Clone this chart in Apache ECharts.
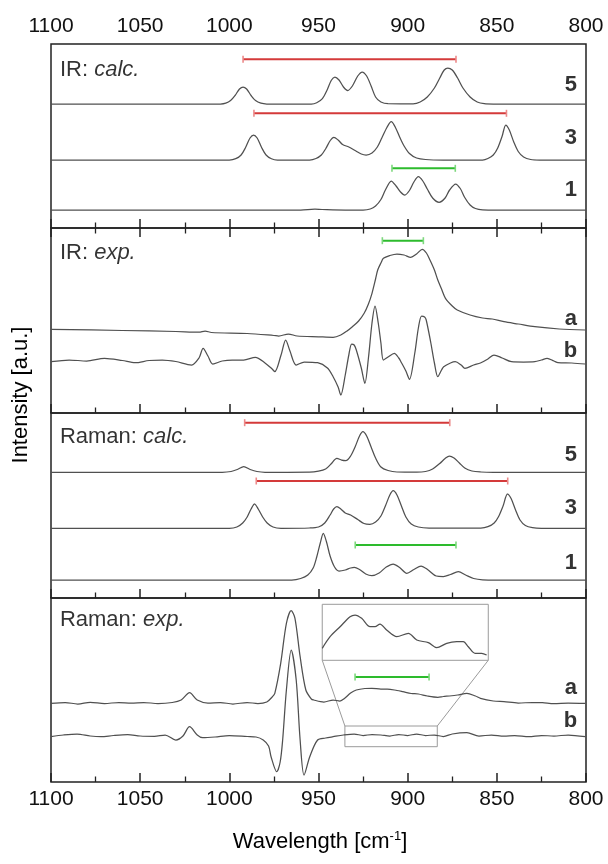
<!DOCTYPE html>
<html><head><meta charset="utf-8">
<script src="https://cdn.jsdelivr.net/npm/echarts@6/dist/echarts.min.js"></script>
<style>html,body{margin:0;padding:0;background:#fff}#c{width:608px;height:864px}</style>
</head><body><div id="c"></div>
<script>
// x ticks (wavenumber, cm-1)
const xTicks = [1100, 1050, 1000, 950, 900, 850, 800];

// Panel 1: IR calc.
const irCalc5 = [[1100,124],[1005,124],[1002,124.8],[999.3,127.4],[996.8,132.5],[994.3,139],[992.3,141],[990.3,139],[987.8,132.5],[985.3,127.4],[982.3,124.8],[979,124],[954,124],[951,125.3],[947.8,129.4],[945.3,137.5],[942.8,147.8],[940.8,151],[938.5,148],[936,141],[933.6,137.5],[931,142],[928,152],[925.5,156],[923,152],[920.5,142],[918,131],[915,126],[911,124.3],[897,124.2],[893,126],[889,131],[885,140],[882,150],[879.5,158],[877.5,160],[875,158],[872,150],[869,140],[865,131],[861,126],[857,124.3],[852,124],[800,124]];
const irCalc3 = [[1100,68],[1000,68],[996.4,69.3],[993.4,73],[990.9,80.5],[988.4,90],[986.4,93],[984.4,90],[981.9,80.5],[979.4,73],[976.4,69.3],[973,68],[955,68],[951.4,69.5],[948.4,73],[945.9,79.5],[943.4,87.5],[941.4,90.7],[939,88],[936.5,83.5],[933,81],[929,77],[926,74],[923.3,73],[920,75],[917,81],[914.5,90],[911.5,101],[909.2,106.3],[907,101],[904.5,91],[902,82],[899,74.5],[895,70],[890,68.5],[880,68],[858,68],[855,69.5],[852,73],[849.5,80],[847,92],[845,103],[843,98],[840.5,86],[838,76.5],[835,71],[831,68.5],[826,68],[800,68]];
const irCalc1 = [[1100,18],[960,18],[952,18.8],[948,18.5],[935,18],[925,18],[921,19],[918,22],[915,28.5],[912.5,38],[909.2,47],[906.5,42],[904,36],[901.6,33],[899,37.5],[896.5,46],[894,51.3],[891.5,47],[889,39],[886,30],[882.4,25.7],[879,30],[876.5,38],[873.1,44],[870.5,39.5],[868,30.5],[865,23],[862,19.5],[858,18.2],[850,18],[800,18]];

// Panel 2: IR exp.
const irExpA = [[1100,83.7],[1060,82.5],[1030,81.5],[1017,80.8],[1013.6,82],[1010,80.5],[990,79.5],[975,77.5],[972.3,77],[966.9,79],[962,77],[950,76.2],[941.8,75.7],[937.5,78],[934,82],[931,86.3],[927.5,92],[924.4,99.7],[922,109],[920,119.7],[918,134],[916.8,143],[915,150],[913.6,154.7],[910,157.5],[906,159],[902,158],[898.3,155.7],[895,159],[891.8,163.7],[889.5,160],[887.5,153],[885,143],[883.1,133],[881,124],[878.8,114.7],[875,107],[872.2,103],[865,98],[858,95],[852.6,94],[846,91.3],[838,89],[828.7,86.3],[815,84],[800.4,83]];
const irExpB = [[1100,51.3],[1089.8,53],[1080,52],[1070,54.7],[1060,52.5],[1052.8,50.3],[1045,52.5],[1037.6,53],[1030,51.5],[1021.2,48],[1017,55],[1014.7,64.7],[1012,57],[1009.3,49],[1004,52],[998.4,53],[992,53],[985.4,55.7],[980,50],[976,44],[974.5,41.3],[971,58],[968.4,73],[966,62],[962.5,48],[958,51],[950.5,50.3],[945,45],[941.8,36.3],[939,26],[937.5,18],[935,38],[933,58],[931.4,69],[930,68],[928.8,63],[926,45],[924,29.7],[922,55],[920,90],[918.3,107],[916.5,90],[915,70],[913.6,53],[911,56],[907.5,59.7],[905,55],[903.8,51.3],[901,42],[899,33.7],[896,60],[894,85],[892.2,97],[890.5,96],[889.6,93],[887,70],[885,50],[883.1,36.3],[881,43],[879.8,46.3],[876,50],[873.3,51.3],[870,48],[867.9,44.7],[863,48],[859.2,50],[855,54],[851.6,58],[847,55],[841.8,51.3],[835,51],[828.7,51.3],[825,53],[821.8,54.7],[818,52],[815.7,50.3],[808,50],[800.4,49]];

// Panel 3: Raman calc.
const raCalc5 = [[1100,125.7],[1004,125.7],[999,126.5],[995.5,128.5],[991.9,131.3],[988.3,128.5],[984.5,126.5],[980,125.7],[955,125.8],[950,126.8],[946,129],[943,134],[939.7,139.7],[937,137.8],[934.7,137.3],[932,142],[929.5,151],[927,162],[925.1,166.3],[923,162],[920.5,151],[918,140],[915,131],[911,127.5],[906,126],[895,125.8],[890,126.5],[886,129],[882,134.5],[879,139.5],[876.6,142],[874,140],[871,135],[868,130],[864,127],[859,126],[852,125.7],[800,125.7]];
const raCalc3 = [[1100,69.7],[1000,69.7],[995.8,71],[992.5,75],[990,81],[987.8,89],[985.8,94],[983.8,89],[981.3,81],[978.8,75],[975.5,71],[971,69.7],[955,70],[950,71],[946.5,75],[943.5,83],[941.5,89],[939.7,91.3],[937.5,89],[935,85],[932,83],[928,78.5],[924.5,74.5],[921.2,73.7],[918,76],[915,82],[912.5,92],[910,103],[908.1,107.3],[906,103],[903.5,92],[901,81],[898,74],[894,71],[888,70],[859,70],[855,71.3],[851.5,75],[849,81.5],[846.5,92],[844,104],[842,99.5],[839.5,88],[837,78],[834,72.5],[830,70.3],[825,69.7],[800,69.7]];
const raCalc1 = [[1100,18],[965,18],[960,19.5],[956,23],[953,30],[951,41],[949,55],[947.3,64.7],[945.5,56],[943.5,42],[941,31],[938.5,27],[935,28],[932,30],[929.9,30.7],[927,28.5],[923.5,24],[920.1,22.3],[916,25],[912,31],[908.1,34],[904.5,30.5],[900.5,24.7],[896.5,28.5],[892.5,32],[888.5,28],[884,22],[880,21.5],[876,23.5],[871.6,26.3],[867.5,23],[863,19.5],[858,18.2],[850,18],[800,18]];

// Panel 4: Raman exp.
const raExpA = [[1100,78.7],[1092,79.5],[1085,78],[1078,79.7],[1070,78.5],[1062,79.5],[1055,78.8],[1048,79.5],[1040,78.5],[1032,79.5],[1027,82],[1022.3,89.3],[1018,82],[1012,79],[1005,79.5],[998,78],[990,79.5],[984,78.5],[979,80],[976,85],[974.5,88.7],[971.2,118.7],[968,158.7],[965.3,171.3],[963.2,163.7],[960.3,125.3],[957.1,92],[954,83],[952.7,82],[947,80],[941.8,82],[938,81],[935.3,83.7],[932,89],[928.8,92],[924,93.5],[920.1,93.7],[915,93],[911.4,93],[906,91.5],[902.7,90.3],[898,88.5],[894,88],[889,86],[883.1,84.7],[880,85.5],[876.6,86],[872,87],[866.8,88.7],[862,86],[859.2,83.7],[852,81],[846,80.3],[838,79],[830,79.5],[824.4,79.3],[818,78.3],[810,79],[800.4,78.7]];
const raExpB = [[1100,45.3],[1093,47],[1085.4,48],[1078,46],[1072,45.3],[1065,46.5],[1057,47.3],[1050,46],[1042,45.7],[1036,47],[1030,42],[1026,46],[1022.3,55.3],[1018,47],[1015,44.3],[1008,45],[1000,46.5],[990,45.5],[985,45],[981,42],[978,36],[976.6,25.3],[973.4,10.3],[971.5,20],[970.1,42],[968,92],[965.3,132],[962.5,102],[960.3,42],[958.1,7],[954.9,25.3],[950.5,42],[946,44],[941.8,45.3],[936,47],[930,48],[925,46.5],[920,47.5],[915,47],[910,46],[905,47.5],[900,46.5],[895,48],[890,46.5],[885,47],[880,45.5],[875,48],[866.8,49.3],[860,46],[853,47],[846,45.8],[840,46.5],[832,45.3],[825,46.5],[818,46],[810,47],[800.4,45.3]];
const raInset = [[947.9,133.7],[943.5,145.3],[937.9,155.3],[932.3,165.3],[929.5,167],[925.8,163.7],[921.1,155.3],[918.3,155.3],[915.5,158],[911.8,152],[906.1,145.3],[899.6,148.7],[894.9,142],[888.4,139.3],[883.7,134.3],[878.1,138.7],[872.5,140.3],[868.8,140.3],[866,135.3],[862.2,128.7],[858.5,128.7],[855.7,127]];
const insetBox = [[947.9,177.7],[854.8,177.7],[854.8,121.7],[947.9,121.7],[947.9,177.7]];
const zoomBox = [[935.2,56],[883.4,56],[883.4,35.3],[935.2,35.3],[935.2,56]];
const zoomLinkL = [[947.9,121.7],[935.2,56]];
const zoomLinkR = [[854.8,121.7],[883.4,56]];

// Range bars: [from, to, level]
const barsP1 = [{c:'red',d:[992.3,872.9,168.7]},{c:'red',d:[986.2,844.6,114.7]},{c:'green',d:[908.8,873.3,59.7]}];
const barsP2 = [{c:'green',d:[914.2,891.2,172.3]}];
const barsP3 = [{c:'red',d:[991.4,876.4,175.3]},{c:'red',d:[984.9,843.9,117]},{c:'green',d:[929.4,872.9,53]}];
const barsP4 = [{c:'green',d:[929.5,888,105]}];

// Curve labels
const labelsP1 = [['5',143],['3',90],['1',38]];
const labelsP2 = [['a',93.7],['b',62.3]];
const labelsP3 = [['5',143],['3',89.7],['1',35.3]];
const labelsP4 = [['a',93.7],['b',61.3]];
const panelTitles = [['IR: ','calc.',158],['IR: ','exp.',160],['Raman: ','calc.',161.3],['Raman: ','exp.',162]];

const gridTops = [44, 228, 413, 598];
const gridHeights = [184, 185, 185, 184];

const FONT = 'Liberation Sans, Arial, sans-serif';
const curveColor = '#505050';
const chart = echarts.init(document.getElementById('c'), null, {renderer:'canvas'});

const grids = gridTops.map((t,i)=>({left:51, right:22, top:t, height:gridHeights[i], show:true, borderColor:'#222', borderWidth:1.5, backgroundColor:'transparent'}));
function xa(gi, pos, showLabel){
  return {type:'value', gridIndex:gi, position:pos, min:xTicks[xTicks.length-1], max:xTicks[0], interval:50, inverse:true,
    axisLine:{show:false}, splitLine:{show:false},
    axisTick:{show:true, inside:true, length:9, lineStyle:{color:'#222', width:1.5}},
    minorTick:{show:true, splitNumber:2, length:5.5, lineStyle:{color:'#222', width:1.3}},
    axisLabel:{show:showLabel, fontFamily:FONT, fontSize:21, color:'#111', margin:7, showMinLabel:true, showMaxLabel:true,
      formatter:v=>String(v)}};
}
const xAxes = [xa(0,'top',true), xa(0,'bottom',false), xa(1,'bottom',false), xa(2,'bottom',false), xa(3,'bottom',true)];
const xIdx = [1,2,3,4];
const yAxes = gridHeights.map((h,i)=>({type:'value', gridIndex:i, min:0, max:h, show:false}));

const series = [];
function curve(p, data){
  series.push({type:'line', xAxisIndex:xIdx[p], yAxisIndex:p, data, showSymbol:false, smooth:0.3,
    lineStyle:{color:curveColor, width:1.25}, silent:true, z:3});
}
function gray(p, data){
  series.push({type:'line', xAxisIndex:xIdx[p], yAxisIndex:p, data, showSymbol:false, smooth:false,
    lineStyle:{color:'#9a9a9a', width:1}, silent:true, z:2});
}
function bars(p, list){
  list.forEach(b=>{
    const col = b.c==='red' ? '#d43a3a' : '#2dbb2d';
    const cap = b.c==='red' ? '#ec8a8a' : '#7ed87e';
    series.push({type:'line', xAxisIndex:xIdx[p], yAxisIndex:p,
      data:[[b.d[0],b.d[2]],[b.d[1],b.d[2]]], symbol:'rect', symbolSize:[1.6,7], showSymbol:true,
      itemStyle:{color:cap}, lineStyle:{color:col, width:2}, silent:true, z:4});
  });
}
function labels(p, list){
  series.push({type:'scatter', xAxisIndex:xIdx[p], yAxisIndex:p, symbolSize:0, silent:true,
    data:list.map(l=>({name:l[0], value:[805,l[1]]})),
    label:{show:true, position:'left', distance:0, formatter:'{b}', fontFamily:FONT, fontWeight:'bold', fontSize:22, color:'#000'}});
}
function title(p, t){
  series.push({type:'scatter', xAxisIndex:xIdx[p], yAxisIndex:p, symbolSize:0, silent:true,
    data:[{value:[1095,t[2]]}],
    label:{show:true, position:'right', distance:0,
      formatter:'{n|'+t[0]+'}{i|'+t[1]+'}',
      rich:{n:{fontFamily:FONT, fontSize:22, color:'#000'}, i:{fontFamily:FONT, fontSize:22, fontStyle:'italic', color:'#000'}}}});
}

curve(0, irCalc5); curve(0, irCalc3); curve(0, irCalc1);
curve(1, irExpA); curve(1, irExpB);
curve(2, raCalc5); curve(2, raCalc3); curve(2, raCalc1);
curve(3, raExpA); curve(3, raExpB); curve(3, raInset);
gray(3, insetBox); gray(3, zoomBox); gray(3, zoomLinkL); gray(3, zoomLinkR);
bars(0, barsP1); bars(1, barsP2); bars(2, barsP3); bars(3, barsP4);
labels(0, labelsP1); labels(1, labelsP2); labels(2, labelsP3); labels(3, labelsP4);
panelTitles.forEach((t,i)=>title(i,t));

chart.setOption({
  animation:false,
  grid:grids, xAxis:xAxes, yAxis:yAxes, series,
  graphic:[
    {type:'text', x:21, y:395, rotation:Math.PI/2,
      style:{text:'Intensity [a.u.]', font:'22px '+FONT, fill:'#000', textAlign:'center', textVerticalAlign:'middle', align:'center', verticalAlign:'middle'}},
    {type:'text', x:320, y:842,
      style:{text:'{a|Wavelength [cm}{s|-1}{a|]}', textAlign:'center', textVerticalAlign:'middle', align:'center', verticalAlign:'middle',
        rich:{a:{fontFamily:FONT, fontSize:22, fill:'#000', color:'#000'}, s:{fontFamily:FONT, fontSize:13, fill:'#000', color:'#000', verticalAlign:'top', padding:[0,0,12,0]}}}}
  ]
});
</script></body></html>
